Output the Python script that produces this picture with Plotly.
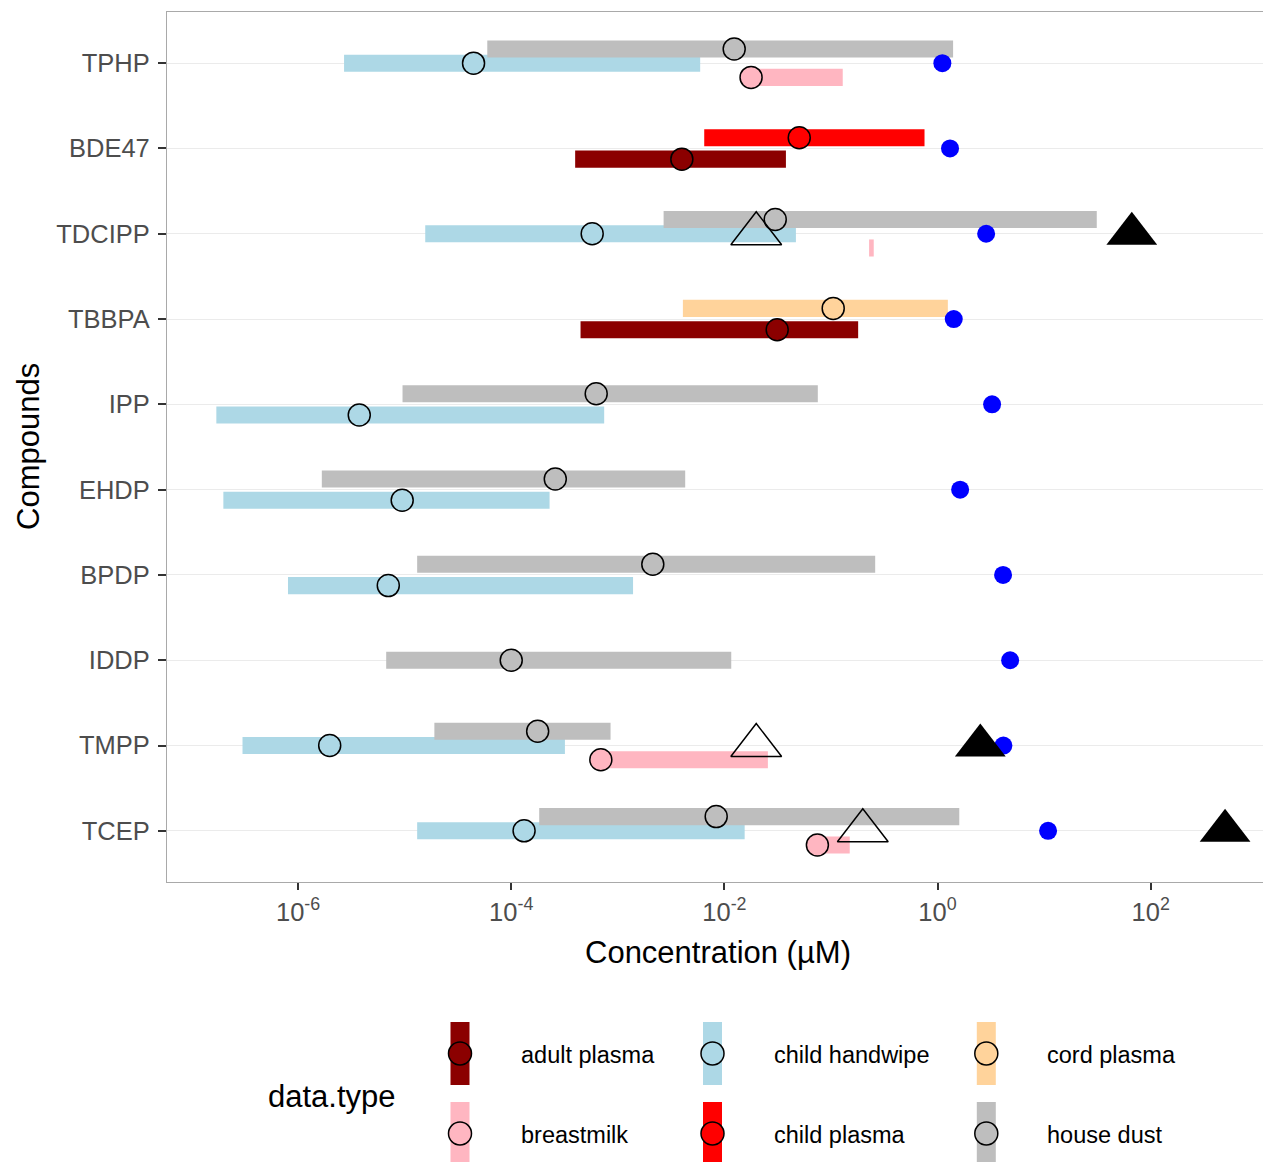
import plotly.graph_objects as go

# ---------------- data ----------------
compounds = ["TPHP", "BDE47", "TDCIPP", "TBBPA", "IPP", "EHDP", "BPDP", "IDDP", "TMPP", "TCEP"]

data_types = ["adult plasma", "breastmilk", "child handwipe", "child plasma", "cord plasma", "house dust"]
type_colors = ["#8B0000", "#FFB6C1", "#ADD8E6", "#FF0000", "#FFD39B", "#BEBEBE"]

# concentration ranges (µM): low, median, high; aligned with compounds, None = not measured
adult_plasma_low = [None, 3.98e-4, None, 4.47e-4, None, None, None, None, None, None]
adult_plasma_med = [None, 3.99e-3, None, 0.0313, None, None, None, None, None, None]
adult_plasma_high = [None, 0.0378, None, 0.180, None, None, None, None, None, None]

breastmilk_low = [0.0178, None, 0.228, None, None, None, None, None, 6.93e-4, 0.0746]
breastmilk_med = [0.0178, None, None, None, None, None, None, None, 6.93e-4, 0.0746]
breastmilk_high = [0.129, None, 0.252, None, None, None, None, None, 0.0256, 0.150]

child_handwipe_low = [2.70e-6, None, 1.56e-5, None, 1.71e-7, 1.99e-7, 8.04e-7, None, 3.01e-7, 1.31e-5]
child_handwipe_med = [4.43e-5, None, 5.75e-4, None, 3.75e-6, 9.48e-6, 7.02e-6, None, 1.98e-6, 1.32e-4]
child_handwipe_high = [5.93e-3, None, 0.0469, None, 7.45e-4, 2.29e-4, 1.39e-3, None, 3.19e-4, 0.0155]

child_plasma_low = [None, 6.47e-3, None, None, None, None, None, None, None, None]
child_plasma_med = [None, 0.0504, None, None, None, None, None, None, None, None]
child_plasma_high = [None, 0.755, None, None, None, None, None, None, None, None]

cord_plasma_low = [None, None, None, 4.08e-3, None, None, None, None, None, None]
cord_plasma_med = [None, None, None, 0.105, None, None, None, None, None, None]
cord_plasma_high = [None, None, None, 1.25, None, None, None, None, None, None]

house_dust_low = [5.96e-5, None, 2.69e-3, None, 9.55e-6, 1.67e-6, 1.31e-5, 6.71e-6, 1.90e-5, 1.83e-4]
house_dust_med = [0.01236, None, 0.0300, None, 6.27e-4, 2.59e-4, 2.13e-3, 1.00e-4, 1.77e-4, 8.38e-3]
house_dust_high = [1.40, None, 31.2, None, 0.0753, 4.29e-3, 0.260, 0.0116, 8.55e-4, 1.60]

blue_points = [1.11, 1.31, 2.86, 1.42, 3.25, 1.63, 4.12, 4.80, 4.15, 10.9]
open_triangles = [None, None, 0.0199, None, None, None, None, None, 0.0199, 0.199]
filled_triangles = [None, None, 66.5, None, None, None, None, None, 2.52, 499.0]

ranges = {
    "adult plasma": (adult_plasma_low, adult_plasma_med, adult_plasma_high),
    "breastmilk": (breastmilk_low, breastmilk_med, breastmilk_high),
    "child handwipe": (child_handwipe_low, child_handwipe_med, child_handwipe_high),
    "child plasma": (child_plasma_low, child_plasma_med, child_plasma_high),
    "cord plasma": (cord_plasma_low, cord_plasma_med, cord_plasma_high),
    "house dust": (house_dust_low, house_dust_med, house_dust_high),
}

# ---------------- positions (dodge) ----------------
ncomp = len(compounds)
ypos = {c: ncomp - i for i, c in enumerate(compounds)}
DODGE = 0.5
present = {}
for i, c in enumerate(compounds):
    present[c] = [t for t in data_types if ranges[t][0][i] is not None]


def offset(t, c):
    lst = present[c]
    n = len(lst)
    k = lst.index(t)
    return (k - (n - 1) / 2) * DODGE / n


fig = go.Figure()
FONT = "Liberation Sans, Arial, sans-serif"

# bars (ranges)
for t, col in zip(data_types, type_colors):
    lo, me, hi = ranges[t]
    ys, bases, lens = [], [], []
    for i, c in enumerate(compounds):
        if lo[i] is None:
            continue
        ys.append(ypos[c] + offset(t, c))
        bases.append(lo[i])
        lens.append(hi[i] - lo[i])
    fig.add_trace(go.Bar(orientation="h", y=ys, x=lens, base=bases, width=0.2,
                         marker=dict(color=col, line=dict(width=0)), name=t, showlegend=False))

# medians
for t, col in zip(data_types, type_colors):
    lo, me, hi = ranges[t]
    ys, xs = [], []
    for i, c in enumerate(compounds):
        if me[i] is None:
            continue
        ys.append(ypos[c] + offset(t, c))
        xs.append(me[i])
    fig.add_trace(go.Scatter(x=xs, y=ys, mode="markers", showlegend=False,
                             marker=dict(size=22, color=col, line=dict(color="black", width=1.5))))

# blue points
fig.add_trace(go.Scatter(x=blue_points, y=[ypos[c] for c in compounds], mode="markers",
                         showlegend=False, marker=dict(size=18, color="#0000FF")))

# triangles
ot_x = [v for v in open_triangles if v is not None]
ot_y = [ypos[c] for c, v in zip(compounds, open_triangles) if v is not None]
fig.add_trace(go.Scatter(x=ot_x, y=ot_y, mode="markers", showlegend=False,
                         marker=dict(symbol="triangle-up-open", size=44, color="black",
                                     line=dict(color="black", width=1.5))))
ft_x = [v for v in filled_triangles if v is not None]
ft_y = [ypos[c] for c, v in zip(compounds, filled_triangles) if v is not None]
fig.add_trace(go.Scatter(x=ft_x, y=ft_y, mode="markers", showlegend=False,
                         marker=dict(symbol="triangle-up", size=44, color="black")))

# ---------------- layout ----------------
W, H = 1263, 1162
ML, MR, MT, MB = 167, 0, 12, 280
PW, PH = W - ML - MR, H - MT - MB


def px(x):
    return (x - ML) / PW


def py(y):
    return (H - MB - y) / PH


shapes = []
annotations = []

# axis titles
annotations.append(dict(text="Concentration (µM)", x=px(718), y=py(952), xref="paper", yref="paper",
                        xanchor="center", yanchor="middle", showarrow=False,
                        font=dict(family=FONT, size=31, color="black")))
annotations.append(dict(text="Compounds", x=px(28), y=py(447), xref="paper", yref="paper",
                        xanchor="center", yanchor="middle", showarrow=False, textangle=-90,
                        font=dict(family=FONT, size=31, color="black")))

# manual legend
annotations.append(dict(text="data.type", x=px(266), y=py(1096), xref="paper", yref="paper",
                        xanchor="left", yanchor="middle", showarrow=False,
                        font=dict(family=FONT, size=31, color="black")))
key_cx = [460, 712.5, 986.3]
text_x = [519.3, 771.7, 1045]
row_cy = [1053.5, 1133.5]
for k, (t, col) in enumerate(zip(data_types, type_colors)):
    ci, ri = k // 2, k % 2
    cx, cy = key_cx[ci], row_cy[ri]
    shapes.append(dict(type="rect", xref="paper", yref="paper", x0=px(cx - 9.5), x1=px(cx + 9.5),
                       y0=py(cy - 31.5), y1=py(cy + 31.5), fillcolor=col, line=dict(width=0)))
    shapes.append(dict(type="circle", xref="paper", yref="paper", x0=px(cx - 11.5), x1=px(cx + 11.5),
                       y0=py(cy - 11.5), y1=py(cy + 11.5), fillcolor=col,
                       line=dict(color="black", width=1.5)))
    annotations.append(dict(text=t, x=px(text_x[ci]), y=py(cy + 1), xref="paper", yref="paper",
                            xanchor="left", yanchor="middle", showarrow=False,
                            font=dict(family=FONT, size=23.5, color="black")))

xtick_vals = [1e-6, 1e-4, 1e-2, 1e0, 1e2]
xtick_text = ["10<sup>-6</sup>", "10<sup>-4</sup>", "10<sup>-2</sup>", "10<sup>0</sup>", "10<sup>2</sup>"]

fig.update_layout(
    width=W, height=H,
    margin=dict(l=ML, r=MR, t=MT, b=MB, pad=0),
    paper_bgcolor="white", plot_bgcolor="white",
    barmode="overlay", showlegend=False,
    font=dict(family=FONT),
    shapes=shapes, annotations=annotations,
    xaxis=dict(type="log", range=[-7.23, 3.054], tickvals=xtick_vals, ticktext=xtick_text,
               showgrid=False, zeroline=False, showline=True, mirror=True,
               linecolor="#A9A9A9", linewidth=1.3,
               ticks="outside", ticklen=7, tickwidth=1.5, tickcolor="#333333",
               tickfont=dict(family=FONT, size=25.5, color="#4D4D4D")),
    yaxis=dict(range=[0.4, 10.6], tickvals=[ypos[c] for c in compounds], ticktext=compounds,
               showgrid=True, gridcolor="#EBEBEB", gridwidth=1.4, zeroline=False,
               showline=True, mirror=True, linecolor="#A9A9A9", linewidth=1.3,
               ticks="outside", ticklen=8, tickwidth=1.5, tickcolor="#333333",
               ticklabelstandoff=3,
               tickfont=dict(family=FONT, size=25.5, color="#4D4D4D")),
)

fig.write_html("out.html", config={"displayModeBar": False},
               post_script="document.body.style.margin='0px';document.body.style.overflow='hidden';")
